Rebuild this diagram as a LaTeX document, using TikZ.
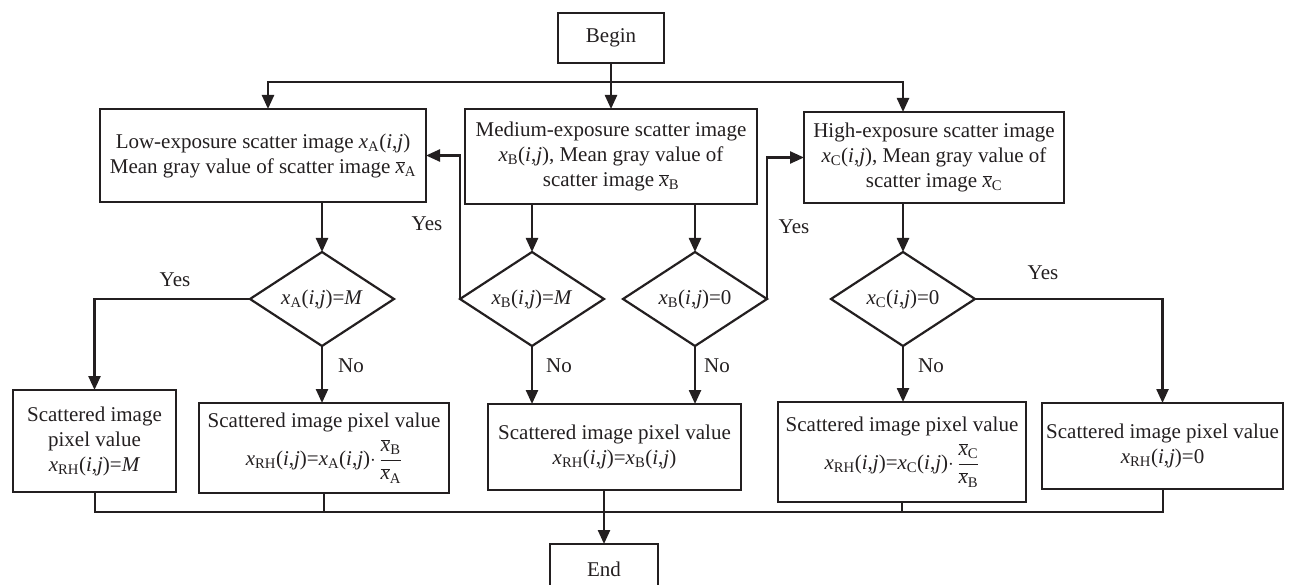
\documentclass[tikz,border=0pt]{standalone}
\usepackage{fontspec}
\setmainfont{Liberation Serif}
\usetikzlibrary{shapes.geometric,arrows.meta}
\newcommand\xsub[1]{\textit{x}\textsubscript{#1}}
\newcommand\xbr[1]{$\overline{\hbox{\textit{x}}}$\textsubscript{#1}}
\newcommand\ijarg{(\textit{i},\textit{j})}
\newcommand\fracxx[2]{$\displaystyle\frac{\hbox{\xbr{#1}}}{\hbox{\xbr{#2}}}$}
\definecolor{ink}{HTML}{231F20}
\begin{document}
\begin{tikzpicture}[x=1pt,y=-1pt,
  every node/.style={font=\fontsize{21}{25}\selectfont, text=ink},
  box/.style={draw=ink, line width=1.9pt, rectangle, inner sep=0pt, outer sep=0pt, align=center},
  dia/.style={draw=ink, line width=2.2pt, diamond, aspect=1.53, minimum width=144pt, minimum height=94pt, inner sep=0pt, outer sep=0pt},
  conn/.style={draw=ink, line width=2.4pt},
  arr/.style={conn, -{Triangle[length=14pt,width=12pt]}},
  lbl/.style={inner sep=0pt}
]
\useasboundingbox (0,0) rectangle (1289,585);

\node[box, minimum width=106pt, minimum height=50pt] (Begin) at (611,38) {Begin};
\node[box, minimum width=326pt, minimum height=93pt] (Low) at (263,155.5)
  {Low-exposure scatter image \xsub{A}\ijarg\\Mean gray value of scatter image \xbr{A}};
\node[box, minimum width=292pt, minimum height=95pt] (Med) at (611,156.5)
  {Medium-exposure scatter image\\\xsub{B}\ijarg, Mean gray value of\\scatter image \xbr{B}};
\node[box, minimum width=260pt, minimum height=91pt] (High) at (934,157.5)
  {High-exposure scatter image\\\xsub{C}\ijarg, Mean gray value of\\scatter image \xbr{C}};

\node[dia] (DA) at (322,299) {\xsub{A}\ijarg=\textit{M}};
\node[dia] (DB1) at (532,299) {\xsub{B}\ijarg=\textit{M}};
\node[dia] (DB2) at (695,299) {\xsub{B}\ijarg=0};
\node[dia] (DC) at (903,299) {\xsub{C}\ijarg=0};

\node[box, minimum width=163pt, minimum height=102pt] (B1) at (94.5,441)
  {Scattered image\\pixel value\\\xsub{RH}\ijarg=\textit{M}};
\node[box, minimum width=250pt, minimum height=90pt] (B2) at (324,448)
  {Scattered image pixel value\\[7pt]\xsub{RH}\ijarg=\xsub{A}\ijarg$\cdot$\,\fracxx{B}{A}};
\node[box, minimum width=253pt, minimum height=86pt] (B3) at (614.5,447)
  {Scattered image pixel value\\\xsub{RH}\ijarg=\xsub{B}\ijarg};
\node[box, minimum width=248pt, minimum height=100pt] (B4) at (902,452)
  {Scattered image pixel value\\[7pt]\xsub{RH}\ijarg=\xsub{C}\ijarg$\cdot$\,\fracxx{C}{B}};
\node[box, minimum width=241pt, minimum height=86pt] (B5) at (1162.5,446)
  {Scattered image pixel value\\\xsub{RH}\ijarg=0};
\node[box, minimum width=108pt, minimum height=50pt] (End) at (604,569) {End};

\coordinate (split) at (611,82);
\coordinate (merge) at (604,512);

% top distribution
\draw[conn] (Begin.south) -- (split);
\draw[arr] (split) -- (Med.north);
\draw[arr] (split) -| ([xshift=5pt]Low.north);
\draw[arr] (split) -| (DC.north |- High.north);

% boxes to diamonds
\draw[arr] (DA.north |- Low.south) -- (DA.north);
\draw[arr] (DB1.north |- Med.south) -- (DB1.north);
\draw[arr] (DB2.north |- Med.south) -- (DB2.north);
\draw[arr] (DC.north |- High.south) -- (DC.north);

% diamond A
\draw[arr] (DA.west) -| (B1.north);
\node[lbl] (yA) at (175,280) {Yes};
\draw[arr] (DA.south) -- (DA.south |- B2.north);
\node[lbl] (nA) at (351,366) {No};

% diamond B1
\draw[arr] (DB1.west) |- (Low.east);
\node[lbl] (yB1) at (427,224) {Yes};
\draw[arr] (DB1.south) -- (DB1.south |- B3.north);
\node[lbl] (nB1) at (559,366) {No};

% diamond B2
\draw[arr] (DB2.east) |- (High.west);
\node[lbl] (yB2) at (794,227) {Yes};
\draw[arr] (DB2.south) -- (DB2.south |- B3.north);
\node[lbl] (nB2) at (717,366) {No};

% diamond C
\draw[arr] (DC.south) -- (DC.south |- B4.north);
\node[lbl] (nC) at (931,366) {No};
\draw[arr] (DC.east) -| (B5.north);
\node[lbl] (yC) at (1043,273) {Yes};

% merge to End
\draw[conn, line width=2pt] (B1.south) -- (B1.south |- merge) -- (B5.south |- merge) -- (B5.south);
\draw[conn, line width=2pt] (B2.south) -- (B2.south |- merge);
\draw[conn, line width=2pt] (merge |- B3.south) -- (merge);
\draw[conn, line width=2pt] (B4.south) -- (B4.south |- merge);
\draw[arr] (merge) -- (End.north);
\end{tikzpicture}
\end{document}
